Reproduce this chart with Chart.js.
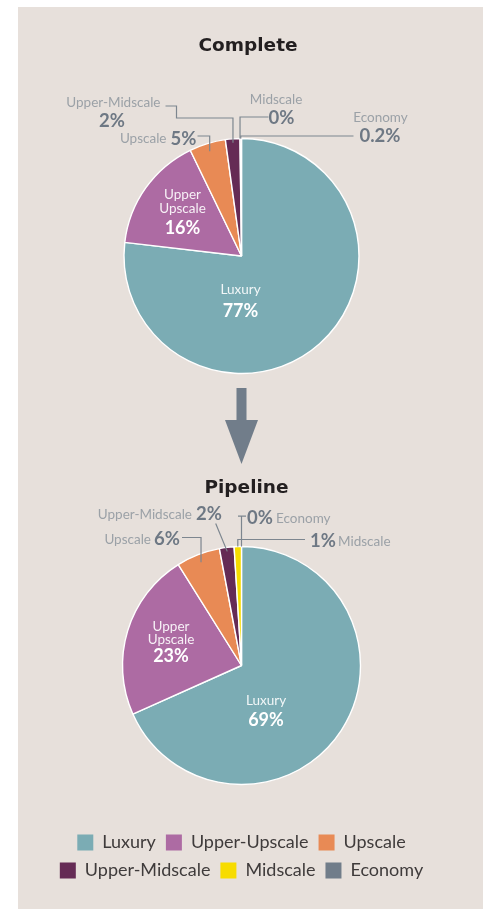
<!DOCTYPE html>
<html>
<head>
<meta charset="utf-8">
<script src="https://cdn.jsdelivr.net/npm/chart.js@4.4.1/dist/chart.umd.min.js"></script>
<style>
  html, body { margin: 0; padding: 0; background: #fff; }
  #page { position: relative; width: 483px; height: 909px; overflow: hidden; }
  #panel { position: absolute; left: 18px; top: 7px; right: 0; bottom: 0; background: #e7e0db; }
  #completeChart { position: absolute; left: 0; top: 0; }
  #pipelineChart { position: absolute; left: 0; top: 470px; }
</style>
</head>
<body>
<div id="page">
  <div id="panel"></div>
  <canvas id="completeChart" width="483" height="470"></canvas>
  <canvas id="pipelineChart" width="483" height="439"></canvas>
</div>
<script>
// Сегменти готельного ринку
const segments = ['Luxury', 'Upper-Upscale', 'Upscale', 'Upper-Midscale', 'Midscale', 'Economy'];
const completeValues = [77, 16, 5, 2, 0, 0.2];
const pipelineValues = [69, 23, 6, 2, 1, 0];
const segmentColors = ['#7bacb4', '#ad6ba3', '#e88a55', '#652b55', '#f7dc00', '#717d8a'];

const FONT = 'Lato, "Noto Sans", sans-serif';
const TITLE_FONT = '"DejaVu Sans", sans-serif';
const NAME_COLOR = '#9ba1a7';
const PCT_COLOR = '#6e7884';
const LINE_COLOR = '#7d868f';

function pct(v) {
  return v + '%';
}

// Точка на дузі сектора (середина кута) на заданому радіусі
function arcPoint(arc, r) {
  const a = (arc.startAngle + arc.endAngle) / 2;
  return { x: arc.x + Math.cos(a) * r, y: arc.y + Math.sin(a) * r };
}

// Плагін: заголовок, виноски з лініями, підписи всередині, стрілка
const calloutPlugin = {
  id: 'callouts',
  afterDatasetsDraw(chart, args, opts) {
    const ctx = chart.ctx;
    const meta = chart.getDatasetMeta(0);
    const values = chart.data.datasets[0].data;
    const cx = meta.data[0].x;
    const cy = meta.data[0].y;
    ctx.save();

    // Заголовок
    ctx.fillStyle = '#231f20';
    ctx.font = 'bold 18.5px ' + TITLE_FONT;
    ctx.textAlign = 'center';
    ctx.textBaseline = 'middle';
    ctx.fillText(opts.title.text, cx + opts.title.dx, cy + opts.title.dy);

    // Лінії виносок
    ctx.strokeStyle = LINE_COLOR;
    ctx.lineWidth = 1.2;
    opts.callouts.forEach(c => {
      const arc = meta.data[c.index];
      const end = arcPoint(arc, arc.outerRadius - (c.inset || 0));
      const pts = c.path.map(p => ({ x: cx + p[0], y: cy + p[1] }));
      if (c.drop) {
        const last = pts[pts.length - 1];
        pts.push({ x: end.x, y: last.y });
      }
      pts.push(end);
      ctx.beginPath();
      ctx.moveTo(pts[0].x, pts[0].y);
      for (let i = 1; i < pts.length; i++) ctx.lineTo(pts[i].x, pts[i].y);
      ctx.stroke();

      // Назва сегмента та відсоток
      ctx.font = '13.5px ' + FONT;
      ctx.fillStyle = NAME_COLOR;
      ctx.textAlign = c.name.align;
      ctx.fillText(segments[c.index], cx + c.name.dx, cy + c.name.dy);
      ctx.font = 'bold 18.5px ' + FONT;
      ctx.fillStyle = PCT_COLOR;
      ctx.textAlign = c.value.align;
      ctx.fillText(pct(values[c.index]), cx + c.value.dx, cy + c.value.dy);
    });

    // Підписи всередині секторів
    ctx.textAlign = 'center';
    opts.inner.forEach(l => {
      ctx.font = '13.5px ' + FONT;
      ctx.fillStyle = 'rgba(255,255,255,0.9)';
      l.lines.forEach((t, i) => ctx.fillText(t, cx + l.dx, cy + l.dy[i]));
      ctx.font = 'bold 18px ' + FONT;
      ctx.fillStyle = '#ffffff';
      ctx.fillText(pct(values[l.index]), cx + l.dx, cy + l.dy[l.lines.length]);
    });

    // Стрілка між діаграмами
    if (opts.arrow) {
      ctx.fillStyle = '#717d8a';
      ctx.fillRect(cx - 5, cy + 132, 10, 33);
      ctx.beginPath();
      ctx.moveTo(cx - 16.5, cy + 164);
      ctx.lineTo(cx + 16.5, cy + 164);
      ctx.lineTo(cx, cy + 208);
      ctx.closePath();
      ctx.fill();
    }
    ctx.restore();
  }
};

function legendLabels(chart) {
  return Chart.overrides.pie.plugins.legend.labels.generateLabels(chart).map(item => {
    item.lineWidth = 0;
    item.strokeStyle = 'transparent';
    return item;
  });
}

function makePie(canvasId, values, radius, padding, showLegend, callouts) {
  return new Chart(document.getElementById(canvasId), {
    type: 'pie',
    data: {
      labels: segments,
      datasets: [{
        data: values,
        backgroundColor: segmentColors,
        borderColor: '#ffffff',
        borderWidth: 1.4,
        radius: radius
      }]
    },
    options: {
      responsive: false,
      animation: false,
      layout: { padding: padding },
      plugins: {
        tooltip: { enabled: false },
        legend: {
          display: showLegend,
          position: 'bottom',
          labels: {
            boxWidth: 16,
            boxHeight: 16,
            padding: 10,
            color: '#3f3b3b',
            font: { family: FONT, size: 18 },
            generateLabels: legendLabels
          }
        },
        callouts: callouts
      }
    },
    plugins: [calloutPlugin]
  });
}

// Діаграма: завершені об'єкти
makePie('completeChart', completeValues, 117.5, { top: 42, bottom: 0 }, false, {
  title: { text: 'Complete', dx: 6.5, dy: -210 },
  arrow: true,
  callouts: [
    { index: 3, path: [[-76, -150], [-65, -150], [-65, -138]], drop: true, inset: 4,
      name: { dx: -81, dy: -153, align: 'right' }, value: { dx: -129.5, dy: -135, align: 'center' } },
    { index: 4, path: [[27, -139], [0, -139]], drop: true, inset: 0,
      name: { dx: 34.5, dy: -156, align: 'center' }, value: { dx: 27, dy: -138, align: 'left' } },
    { index: 5, path: [[112, -120]], drop: true, inset: 0,
      name: { dx: 139, dy: -138, align: 'center' }, value: { dx: 138.5, dy: -120, align: 'center' } },
    { index: 2, path: [[-44, -120], [-32, -120]], drop: true, inset: 8,
      name: { dx: -75, dy: -117, align: 'right' }, value: { dx: -71, dy: -117, align: 'left' } }
  ],
  inner: [
    { index: 1, lines: ['Upper', 'Upscale'], dx: -59, dy: [-61, -47, -28] },
    { index: 0, lines: ['Luxury'], dx: -1, dy: [34, 55] }
  ]
});

// Діаграма: об'єкти в розробці
makePie('pipelineChart', pipelineValues, 119, { top: 37.5, bottom: 19.5 }, true, {
  title: { text: 'Pipeline', dx: 5, dy: -177.5 },
  arrow: false,
  callouts: [
    { index: 3, path: [[-25.8, -142]], drop: false, inset: 4,
      name: { dx: -49.5, dy: -151, align: 'right' }, value: { dx: -45.5, dy: -151, align: 'left' } },
    { index: 5, path: [[4.5, -149.3], [-3.5, -149.3]], drop: true, inset: 0,
      name: { dx: 34.5, dy: -147, align: 'left' }, value: { dx: 5.5, dy: -147, align: 'left' } },
    { index: 2, path: [[-59.5, -128], [-42.5, -128]], drop: true, inset: 8,
      name: { dx: -90.5, dy: -126, align: 'right' }, value: { dx: -87.5, dy: -126, align: 'left' } },
    { index: 4, path: [[63.5, -126]], drop: true, inset: 0,
      name: { dx: 96.5, dy: -124, align: 'left' }, value: { dx: 68.5, dy: -124, align: 'left' } }
  ],
  inner: [
    { index: 1, lines: ['Upper', 'Upscale'], dx: -70.5, dy: [-39, -26, -9] },
    { index: 0, lines: ['Luxury'], dx: 24.5, dy: [34.7, 55] }
  ]
});
</script>
</body>
</html>
